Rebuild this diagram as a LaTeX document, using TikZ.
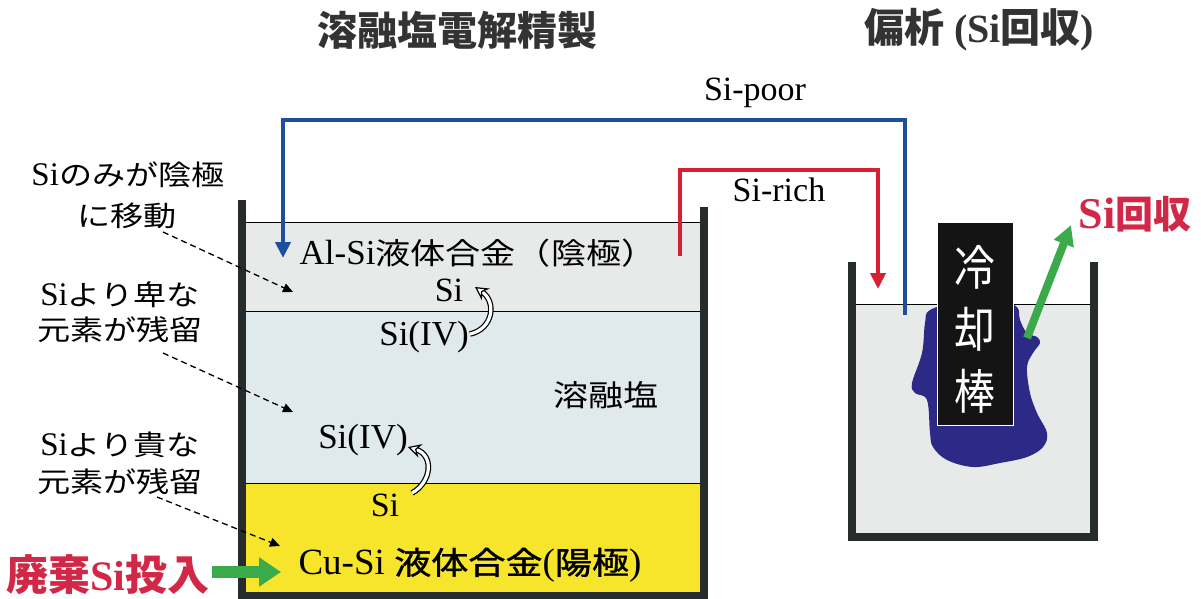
\documentclass[tikz,border=0pt]{standalone}
\usepackage{fontspec}
\setmainfont{Liberation Serif}
% Japanese text: wide-set gothic, a heavier cut, an upright one for headings, a narrow one for the rod
\newfontfamily\jp[Scale=0.85,FakeStretch=1.18]{Noto Sans CJK JP}
\newfontfamily\jpm[Scale=0.85,FakeStretch=1.18,FakeBold=1.2]{Noto Sans CJK JP}
\newfontfamily\jpt{Noto Sans CJK JP}
\newfontfamily\jpr[FakeStretch=0.85]{Noto Sans CJK JP}
\usetikzlibrary{arrows.meta}
\definecolor{wallc}{HTML}{262B2B}
\definecolor{alsic}{HTML}{E8EAEA}
\definecolor{saltc}{HTML}{E0E9EB}
\definecolor{anodec}{HTML}{F6E52B}
\definecolor{poorc}{HTML}{1F4E9C}
\definecolor{richc}{HTML}{D62134}
\definecolor{arrowg}{HTML}{3BAA4A}
\definecolor{crystc}{HTML}{2D2A87}
\definecolor{headc}{HTML}{333333}
\definecolor{redtxt}{HTML}{D22848}
\newcommand\fs[1]{\fontsize{#1}{#1}\selectfont}
\begin{document}
\begin{tikzpicture}[x=1pt,y=-1pt,
  lbl/.style={inner sep=0pt, anchor=center},
  wall/.style={fill=wallc},
  sepline/.style={draw=black, line width=1pt},
  flow/.style={line width=4pt, -{Triangle[length=16pt,width=15pt]}},
  dasharr/.style={draw=black, line width=1.3pt, dash pattern=on 6pt off 4pt, -{Triangle[length=10pt,width=9pt]}},
  hookarr/.style={draw=black, line width=1.2pt, double=white, double distance=3.2pt, -{Stealth[length=13pt,width=14pt,open,fill=white,line width=1.2pt]}},
  fatarr/.style={draw=arrowg, -{Triangle[length=22pt,width=28pt]}},
]
\useasboundingbox (0,0) rectangle (1201,599);
\fill[white] (0,0) rectangle (1201,599);

% ---------- electrolysis cell ----------
\fill[alsic]  (246,222) rectangle (700,311);
\fill[saltc]  (246,311) rectangle (700,483);
\fill[anodec] (246,483) rectangle (700,592);
\draw[sepline] (246,222) -- (700,222);
\draw[sepline] (246,311) -- (700,311);
\draw[sepline] (246,483) -- (700,483);
\fill[wall] (238,200) rectangle (246,599);
\fill[wall] (700,207) rectangle (708,599);
\fill[wall] (238,592) rectangle (708,599);

% ---------- segregation vessel ----------
\fill[alsic] (856,304) rectangle (1090,533);
\draw[sepline] (856,304) -- (1090,304);
\fill[wall] (848,262) rectangle (856,541);
\fill[wall] (1090,262) rectangle (1098,541);
\fill[wall] (848,533) rectangle (1098,541);

% silicon crystal grown on the cooling rod
\fill[crystc] plot[smooth cycle, tension=0.6] coordinates {
  (930,310) (925,323) (922,353) (912,383) (915,393) (927,400) (930,433)
  (933,447) (947,460) (973,467) (1000,463) (1027,457) (1043,447) (1047,433)
  (1037,413) (1030,393) (1027,367) (1033,353) (1040,343) (1037,337)
  (1027,333) (1020,320) (1017,307) (1000,302) (960,302)};

\node[draw=white, line width=1pt, fill=black!92, minimum width=76pt,
      minimum height=203pt, inner sep=0pt] (rod) at (975,323.5) {};
\node[lbl, text=white, align=center, font=\jpr\fontsize{48}{62}\selectfont]
  (rodtxt) at (975,329) {冷\\却\\棒};

% ---------- headings ----------
\node[lbl, text=headc, font=\jpt\bfseries\fs{40}] (head1) at (457,30) {溶融塩電解精製};
\node[lbl, text=headc, font=\bfseries\fs{40}] (head2) at (979,30) {{\jpt 偏析} (Si{\jpt 回収})};

% ---------- circulation of the Al-Si alloy ----------
\coordinate (poorS) at (905,315);
\coordinate (poorT) at (600,120);
\coordinate (poorE) at (283,258);
\draw[flow, draw=poorc] (poorS) |- (poorT) -| (poorE);
\node[lbl, font=\fs{34}] (poorlbl) at (755,93) {Si-poor};

\coordinate (richS) at (680,256);
\coordinate (richT) at (780,170);
\coordinate (richE) at (878,289);
\draw[flow, draw=richc] (richS) |- (richT) -| (richE);
\node[lbl, font=\fs{34}] (richlbl) at (779,190) {Si-rich};

% ---------- cell contents ----------
\node[lbl, font=\fs{35}] (cathode) at (478,253) {Al-Si{\jp 液体合金（陰極）}};
\node[lbl, font=\fs{34}] (siU) at (449,290) {Si};
\node[lbl, font=\fs{35}] (sivU) at (424,337) {Si(IV)};
\node[lbl, font=\jp\fs{35}] (salt) at (606,395) {溶融塩};
\node[lbl, font=\fs{35}] (sivL) at (363,440) {Si(IV)};
\node[lbl, font=\fs{34}] (siL) at (385,505) {Si};
\node[lbl, font=\fs{37}] (anode) at (470,565) {Cu-Si {\jpm 液体合金}({\jpm 陽極})};

\coordinate (hu1) at (470,334);
\coordinate (hu2) at (475,287);
\draw[hookarr] (hu1) .. controls (493,329) and (497,302) .. (hu2);
\coordinate (hl1) at (412,493);
\coordinate (hl2) at (408,447);
\draw[hookarr] (hl1) .. controls (432,482) and (434,455) .. (hl2);

% ---------- side notes ----------
\node[lbl, font=\fs{33}] (mv1) at (128,175) {Si{\jp のみが陰極}};
\node[lbl, font=\jp\fs{33}] (mv2) at (127,216) {に移動};
\node[lbl, font=\fs{33}] (ba1) at (120,295) {Si{\jp より卑な}};
\node[lbl, font=\jp\fs{33}] (ba2) at (120,330) {元素が残留};
\node[lbl, font=\fs{33}] (no1) at (120,445) {Si{\jp より貴な}};
\node[lbl, font=\jp\fs{33}] (no2) at (120,482) {元素が残留};

\coordinate (d1s) at (163,232); \coordinate (d1e) at (293,292);
\coordinate (d2s) at (163,353); \coordinate (d2e) at (293,412);
\coordinate (d3s) at (157,497); \coordinate (d3e) at (280,546);
\draw[dasharr] (d1s) -- (d1e);
\draw[dasharr] (d2s) -- (d2e);
\draw[dasharr] (d3s) -- (d3e);

% ---------- feed and recovery ----------
\node[lbl, text=redtxt, font=\bfseries\fs{42}] (feed) at (108,575) {{\jpt 廃棄}Si{\jpt 投入}};
\coordinate (feedE) at (281,572);
\draw[fatarr, line width=12pt] (feed.east) ++(2,-3) coordinate (feedS) -- (feedE);

\node[lbl, text=redtxt, font=\bfseries\fs{44}] (recov) at (1135,214) {Si{\jpt\fs{38}回収}};
\coordinate (recS) at (1027,338);
\coordinate (recE) at (1071,225);
\draw[fatarr, line width=8pt, -{Triangle[length=20pt,width=20pt]}] (recS) -- (recE);
\end{tikzpicture}
\end{document}
